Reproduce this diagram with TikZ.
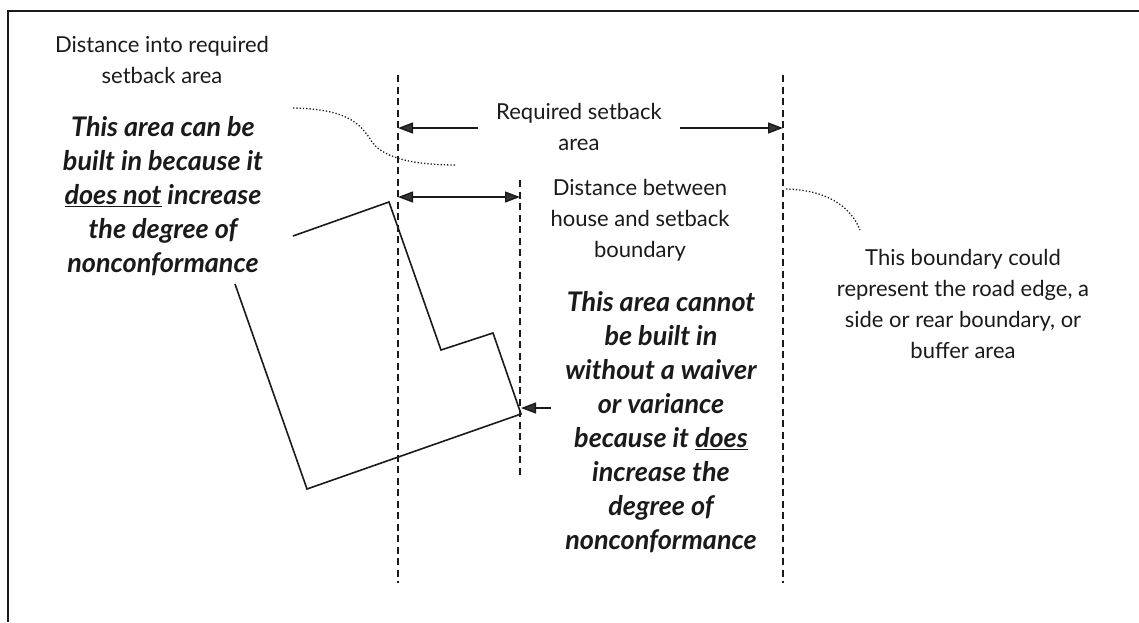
\documentclass[tikz,border=0pt]{standalone}
\usepackage{fontspec}
\setmainfont{Lato}
\usetikzlibrary{arrows.meta}
\definecolor{ink}{HTML}{1A1A1A}
\definecolor{tipgray}{HTML}{333333}
\begin{document}
\begin{tikzpicture}[x=1pt,y=-1pt,
  reg/.style={align=center,inner sep=0pt,text=ink,font=\fontsize{22}{31}\selectfont},
  bold/.style={align=center,inner sep=0pt,text=ink,font=\fontsize{27}{34}\selectfont\bfseries\itshape},
  guide/.style={draw=ink,line width=1.4pt,dash pattern=on 7pt off 4.5pt},
  house/.style={draw=ink,line width=1.6pt,line join=miter},
  dim/.style={draw=ink,line width=1.4pt,-{Triangle[length=15pt,width=11pt,fill=tipgray]}},
  dimboth/.style={draw=ink,line width=1.4pt,{Triangle[length=15pt,width=11pt,fill=tipgray]}-{Triangle[length=15pt,width=11pt,fill=tipgray]}},
  leader/.style={draw=ink,line width=1.3pt,dotted}]
\useasboundingbox (0,0) rectangle (1139,622);
% frame
\draw[line width=2pt,ink] (8,622) -- (8,11) -- (1139,11);
% guide lines
\coordinate (g1t) at (398,75);  \coordinate (g1b) at (398,583);
\coordinate (g2t) at (520,180); \coordinate (g2b) at (520,478);
\coordinate (g3t) at (783,75);  \coordinate (g3b) at (783,583);
\draw[guide] (g1t) -- (g1b);
\draw[guide] (g2t) -- (g2b);
\draw[guide] (g3t) -- (g3b);
% house
\coordinate (h1) at (293,236);
\coordinate (h2) at (389,202);
\coordinate (h3) at (441,350);
\coordinate (h4) at (493,333);
\coordinate (h5) at (521,414);
\coordinate (h6) at (307,489);
\coordinate (h7) at (235,284);
\draw[house] (h1) -- (h2) -- (h3) -- (h4) -- (h5) -- (h6) -- (h7);
% texts
\node[reg] (dinto) at (162,60) {Distance into required\\setback area};
\node[bold] (canbuild) at (163,196) {This area can be\\built in because it\\\underline{does not} increase\\the degree of\\nonconformance};
\node[reg] (req) at (579,127) {Required setback\\area};
\node[reg] (dbetween) at (640,220) {Distance between\\house and setback\\boundary};
\node[bold] (cannot) at (661,422) {This area cannot\\be built in\\without a waiver\\or variance\\because it \underline{does}\\increase the\\degree of\\nonconformance};
\node[reg] (bnote) at (963,304) {This boundary could\\represent the road edge, a\\side or rear boundary, or\\buffer area};
% dimension arrows
\coordinate (ra1) at (478,128); \coordinate (ra1e) at (398,128);
\coordinate (ra2) at (680,128); \coordinate (ra2e) at (783,128);
\draw[dim] (ra1) -- (ra1e);
\draw[dim] (ra2) -- (ra2e);
\coordinate (da1) at (398,197); \coordinate (da2) at (520,197);
\draw[dimboth] (da1) -- (da2);
\coordinate (pa) at (551,408); \coordinate (pae) at (521,408);
\draw[dim] (pa) -- (pae);
% leaders
\coordinate (l1s) at (293,108); \coordinate (l1e) at (457,165);
\draw[leader] (l1s) .. controls (345,109) and (360,122) .. (372,142) .. controls (385,160) and (420,165) .. (l1e);
\coordinate (l2s) at (786,189); \coordinate (l2e) at (860,230);
\draw[leader] (l2s) .. controls (825,190) and (850,205) .. (l2e);
\end{tikzpicture}
\end{document}
